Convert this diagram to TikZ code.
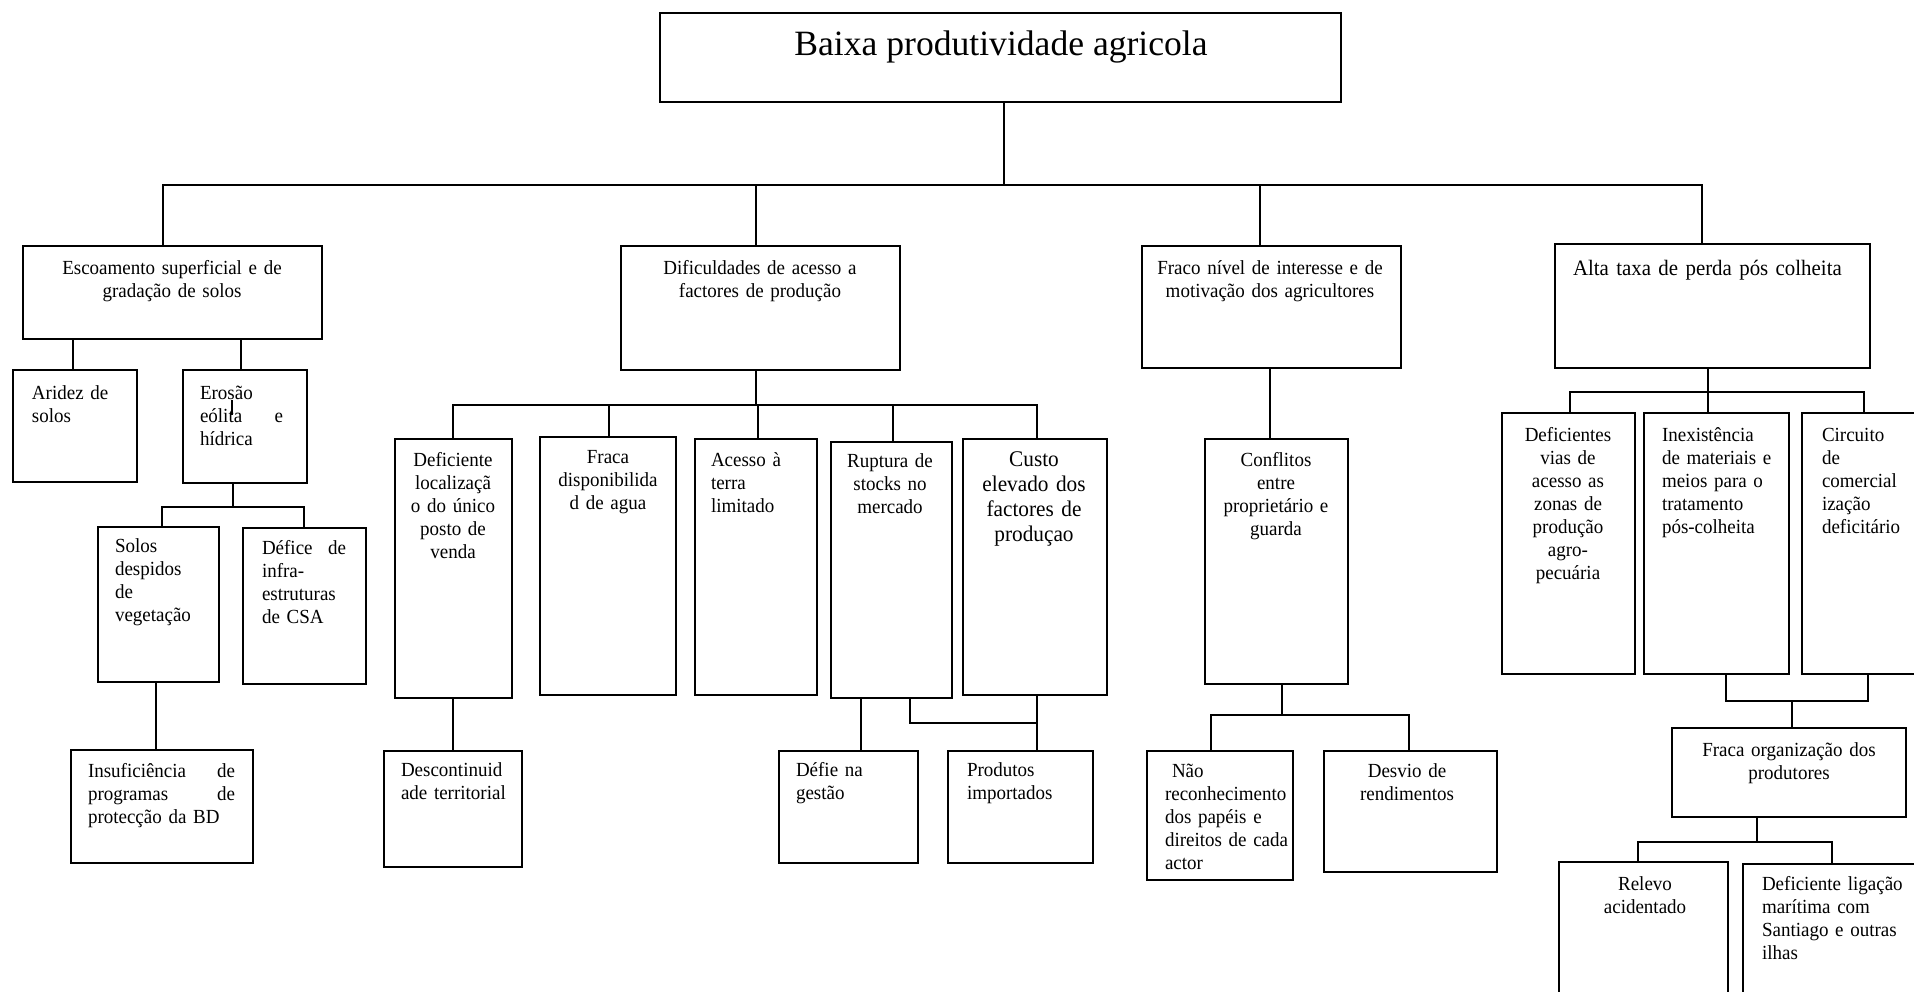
\documentclass[tikz,border=0pt]{standalone}
\usepackage{fontspec}
\setmainfont[FakeStretch=0.95]{Liberation Serif}
\newfontfamily\titlefont{Liberation Serif}
\usetikzlibrary{fit}
\tikzset{
  box/.style={draw, line width=0.75pt, inner sep=0pt, outer sep=0pt},
  conn/.style={line width=0.75pt},
  lbl/.style={inner sep=0pt, outer sep=0pt, font=\fontsize{10}{11.5}\selectfont, execute at begin node=\strut},
  lc/.style={lbl, anchor=north, align=center},
  ll/.style={lbl, anchor=north west, align=left},
}
\newcommand\mybranch[5]{\draw[conn] (#1.south -| #2,0) -- (#2,#3) -| (#4.north -| #5,0);}
\begin{document}
\begin{tikzpicture}[x=0.5pt,y=-0.5pt]
\useasboundingbox (0,0) rectangle (1914,991);
\clip (0,0) rectangle (1914,991);
% ---------- boxes ----------
\node[box, fit={(660,13) (1341,102)}] (top) {};
\node[box, fit={(23,246) (322,339)}] (A) {};
\node[box, fit={(13,370) (137,482)}] (A1) {};
\node[box, fit={(183,370) (307,483)}] (A2) {};
\node[box, fit={(98,527) (219,682)}] (A2a) {};
\node[box, fit={(243,528) (366,684)}] (A2b) {};
\node[box, fit={(71,750) (253,863)}] (A2a1) {};
\node[box, fit={(621,246) (900,370)}] (B) {};
\node[box, fit={(395,439) (512,698)}] (B1) {};
\node[box, fit={(540,437) (676,695)}] (B2) {};
\node[box, fit={(695,439) (817,695)}] (B3) {};
\node[box, fit={(831,442) (952,698)}] (B4) {};
\node[box, fit={(963,439) (1107,695)}] (B5) {};
\node[box, fit={(384,751) (522,867)}] (B1a) {};
\node[box, fit={(779,751) (918,863)}] (B4a) {};
\node[box, fit={(948,751) (1093,863)}] (B5a) {};
\node[box, fit={(1142,246) (1401,368)}] (C) {};
\node[box, fit={(1205,439) (1348,684)}] (C1) {};
\node[box, fit={(1147,751) (1293,880)}] (C1a) {};
\node[box, fit={(1324,751) (1497,872)}] (C1b) {};
\node[box, fit={(1555,244) (1870,368)}] (D) {};
\node[box, fit={(1502,413) (1635,674)}] (D1) {};
\node[box, fit={(1644,413) (1789,674)}] (D2) {};
\node[box, fit={(1802,413) (1940,674)}] (D3) {};
\node[box, fit={(1672,728) (1906,817)}] (D4) {};
\node[box, fit={(1559,862) (1728,1010)}] (D4a) {};
\node[box, fit={(1743,864) (1940,1010)}] (D4b) {};
% ---------- texts ----------
\node[inner sep=0pt, anchor=base, font=\titlefont\fontsize{17.8}{20}\selectfont] (topt) at (1001,55) {Baixa produtividade agricola};
\node[lc, text width=140pt] (At) at (172,258) {Escoamento superficial e de\\gradação de solos};
\node[ll, text width=50pt] (A1t) at (32,383) {Aridez de\\solos};
\node[ll, text width=41.5pt] (A2t) at (200,383) {Erosão\\eólita\hfill e\\hídrica};
\node[ll, text width=50pt] (A2at) at (115,536) {Solos\\despidos\\de\\vegetação};
\node[ll, text width=42pt] (A2bt) at (262,538) {Défice\hfill de\\infra-\\estruturas\\de CSA};
\node[ll, text width=73.5pt] (A2a1t) at (88,761) {Insuficiência\hfill de\\programas\hfill de\\protecção da BD};
\node[lc, text width=130pt] (Bt) at (760,258) {Dificuldades de acesso a\\factores de produção};
\node[lc, text width=56pt] (B1t) at (453,450) {Deficiente\\localizaçã\\o do único\\posto de\\venda};
\node[lc, text width=66pt] (B2t) at (608,447) {Fraca\\disponibilida\\d de agua};
\node[ll, text width=55pt] (B3t) at (711,450) {Acesso à\\terra\\limitado};
\node[lc, text width=58pt] (B4t) at (890,451) {Ruptura de\\stocks no\\mercado};
\node[lc, text width=70pt, font=\fontsize{11.2}{12.5}\selectfont] (B5t) at (1034,449) {Custo\\elevado dos\\factores de\\produçao};
\node[ll, text width=65pt] (B1at) at (401,760) {Descontinuid\\ade territorial};
\node[ll, text width=60pt] (B4at) at (796,760) {Défie na\\gestão};
\node[ll, text width=60pt] (B5at) at (967,760) {Produtos\\importados};
\node[lc, text width=125pt] (Ct) at (1270,258) {Fraco nível de interesse e de\\motivação dos agricultores};
\node[lc, text width=70pt] (C1t) at (1276,450) {Conflitos\\entre\\proprietário e\\guarda};
\node[ll, text width=64pt] (C1at) at (1165,761) {\hspace{3.5pt}Não\\reconhecimento\\dos papéis e\\direitos de cada\\actor};
\node[lc, text width=80pt] (C1bt) at (1407,761) {Desvio de\\rendimentos};
\node[ll, text width=150pt, font=\fontsize{11}{12.5}\selectfont] (Dt) at (1573,258) {Alta taxa de perda pós colheita};
\node[lc, text width=64pt] (D1t) at (1568,425) {Deficientes\\vias de\\acesso as\\zonas de\\produção\\agro-\\pecuária};
\node[ll, text width=62pt] (D2t) at (1662,425) {Inexistência\\de materiais e\\meios para o\\tratamento\\pós-colheita};
\node[ll, text width=55pt] (D3t) at (1822,425) {Circuito\\de\\comercial\\ização\\deficitário};
\node[lc, text width=110pt] (D4t) at (1789,740) {Fraca organização dos\\produtores};
\node[lc, text width=80pt] (D4at) at (1645,874) {Relevo\\acidentado};
\node[ll, text width=80pt] (D4bt) at (1762,874) {Deficiente ligação\\marítima com\\Santiago e outras\\ilhas};
% ---------- connectors ----------
\mybranch{top}{1004}{185}{A}{163}
\mybranch{top}{1004}{185}{B}{756}
\mybranch{top}{1004}{185}{C}{1260}
\mybranch{top}{1004}{185}{D}{1702}
\draw[conn] (A.south -| 73,0) -- (A1.north -| 73,0);
\draw[conn] (A.south -| 241,0) -- (A2.north -| 241,0);
\draw[conn] (A2.north -| 232,0) ++(0,30) -- ++(0,15);
\mybranch{A2}{233}{507}{A2a}{162}
\mybranch{A2}{233}{507}{A2b}{304}
\draw[conn] (A2a.south -| 156,0) -- (A2a1.north -| 156,0);
\mybranch{B}{756}{405}{B1}{453}
\mybranch{B}{756}{405}{B2}{609}
\mybranch{B}{756}{405}{B3}{758}
\mybranch{B}{756}{405}{B4}{893}
\mybranch{B}{756}{405}{B5}{1037}
\draw[conn] (B1.south -| 453,0) -- (B1a.north -| 453,0);
\draw[conn] (B4.south -| 861,0) -- (B4a.north -| 861,0);
\mybranch{B4}{910}{723}{B5a}{1037}
\draw[conn] (B5.south -| 1037,0) -- (B5a.north -| 1037,0);
\draw[conn] (C.south -| 1270,0) -- (C1.north -| 1270,0);
\mybranch{C1}{1282}{715}{C1a}{1211}
\mybranch{C1}{1282}{715}{C1b}{1409}
\mybranch{D}{1708}{392}{D1}{1570}
\mybranch{D}{1708}{392}{D2}{1708}
\mybranch{D}{1708}{392}{D3}{1864}
\draw[conn] (D2.south -| 1726,0) -- (1726,701) -| (D4.north -| 1792,0);
\draw[conn] (D3.south -| 1868,0) -- (1868,701) -| (D4.north -| 1792,0);
\mybranch{D4}{1757}{842}{D4a}{1638}
\mybranch{D4}{1757}{842}{D4b}{1832}
\end{tikzpicture}
\end{document}
